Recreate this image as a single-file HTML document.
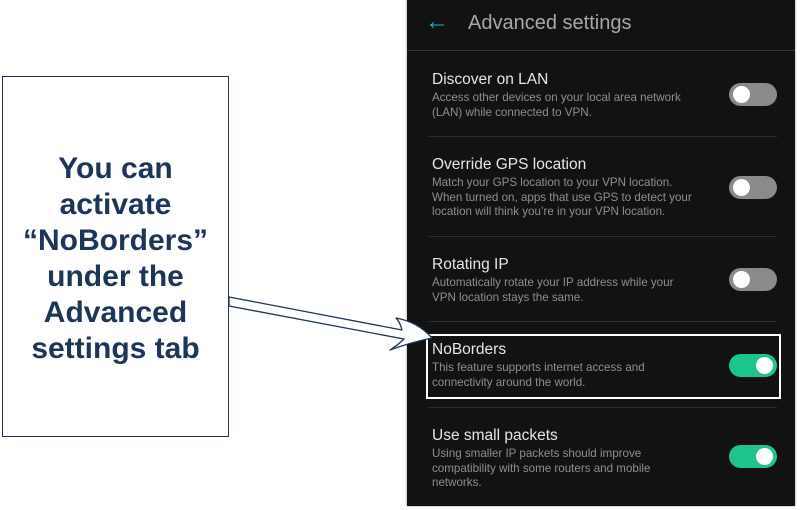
<!DOCTYPE html>
<html><head><style>
body{margin:0;width:806px;height:510px;background:#fff;position:relative;overflow:hidden;font-family:"Liberation Sans",sans-serif}
.panel{position:absolute;left:407px;top:0;width:388px;height:506px;background:#121212;box-shadow:0 0 2px #888}
.hdr{position:absolute;left:0;top:0;width:388px;height:50px;border-bottom:1px solid #333}
.t{position:absolute;left:25px;color:#e6e6e6;font-size:15.5px;white-space:nowrap}
.d{position:absolute;left:25px;color:#8f8f8f;font-size:11.6px;line-height:14.5px;white-space:nowrap}
.sep{position:absolute;left:22px;width:348px;height:1px;background:#2e2e2e}
.tg{position:absolute;left:322px;width:48px;height:23px;border-radius:12px;background:#8a8a8a}
.tg::after{content:"";position:absolute;top:3px;left:4px;width:17px;height:17px;border-radius:50%;background:#fff}
.on{background:#1dc48d}.on::after{left:27px}
.box{position:absolute;left:2px;top:76px;width:225px;height:359px;border:1.5px solid #1f3556;background:#fff}
.box div{position:absolute;top:74px;width:225px;text-align:center;color:#1c3559;font-weight:bold;font-size:30px;line-height:36px}
</style></head><body>
<div class="box"><div>You can<br>activate<br>“NoBorders”<br>under the<br>Advanced<br>settings tab</div></div>
<div class="panel">
<div class="hdr"><span style="position:absolute;left:18px;top:8px;color:#19b3d6;font-size:24px">←</span><span style="position:absolute;left:61px;top:12px;color:#a8a8a8;font-size:20px">Advanced settings</span></div>
<div class="t" style="top:71px">Discover on LAN</div>
<div class="d" style="top:91px">Access other devices on your local area network<br>(LAN) while connected to VPN.</div>
<div class="tg" style="top:83px"></div>
<div class="sep" style="top:136px"></div>
<div class="t" style="top:156px">Override GPS location</div>
<div class="d" style="top:176px">Match your GPS location to your VPN location.<br>When turned on, apps that use GPS to detect your<br>location will think you’re in your VPN location.</div>
<div class="tg" style="top:176px"></div>
<div class="sep" style="top:236px"></div>
<div class="t" style="top:256px">Rotating IP</div>
<div class="d" style="top:276px">Automatically rotate your IP address while your<br>VPN location stays the same.</div>
<div class="tg" style="top:268px"></div>
<div class="sep" style="top:321px"></div>
<div style="position:absolute;left:19px;top:334px;width:351px;height:61px;border:2px solid #fff"></div>
<div class="t" style="top:341px">NoBorders</div>
<div class="d" style="top:361px">This feature supports internet access and<br>connectivity around the world.</div>
<div class="tg on" style="top:354px"></div>
<div class="sep" style="top:407px"></div>
<div class="t" style="top:427px">Use small packets</div>
<div class="d" style="top:447px">Using smaller IP packets should improve<br>compatibility with some routers and mobile<br>networks.</div>
<div class="tg on" style="top:445px"></div>
</div>
<svg style="position:absolute;left:0;top:0" width="806" height="510">
<path d="M229,297 L402,330 Q400,322 396,318 Q418,322 432,338 Q412,342 390,350 Q398,345 404,339 L229,306 Z" fill="#fff" stroke="#1f3556" stroke-width="1.3" stroke-linejoin="round"/>
</svg>
</body></html>
